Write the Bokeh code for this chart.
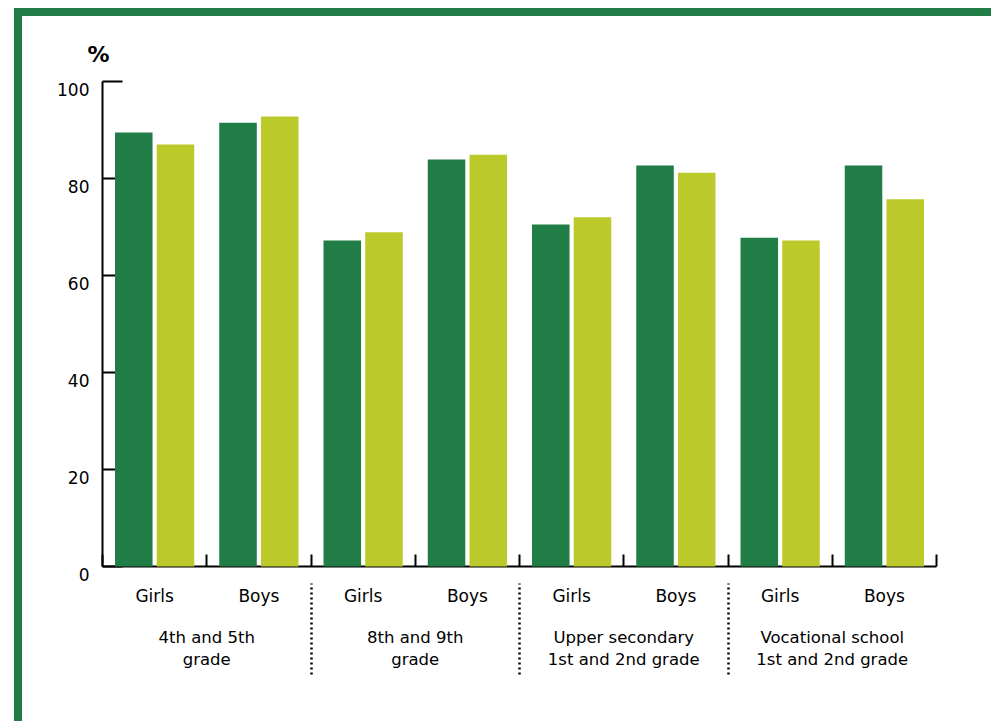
from bokeh.plotting import figure
from bokeh.models import (FactorRange, Range1d, LinearAxis, CategoricalAxis,
                          FixedTicker, Title, ColumnDataSource)
from bokeh.transform import dodge
from bokeh.embed import file_html
from bokeh.resources import INLINE

groups = ["4th and 5th\ngrade", "8th and 9th\ngrade",
          "Upper secondary\n1st and 2nd grade", "Vocational school\n1st and 2nd grade"]
sexes = ["Girls", "Boys"]
series_a = [89.5, 91.5, 67.2, 83.9, 70.5, 82.7, 67.8, 82.7]
series_b = [87.0, 92.8, 68.9, 84.9, 72.0, 81.2, 67.2, 75.7]
y_ticks = [0, 20, 40, 60, 80, 100]

DARK = "#1f7d45"
LIGHT = "#bcc92b"
FONT = "DejaVu Sans"

factors = [(g, s) for g in groups for s in sexes]
src = ColumnDataSource(dict(x=factors, a=series_a, b=series_b))

p = figure(x_range=FactorRange(*factors, range_padding=0, group_padding=0, factor_padding=0),
           y_range=Range1d(0, 100),
           frame_width=834, frame_height=485,
           min_border_left=80, min_border_top=65, min_border_right=55, min_border_bottom=155,
           output_backend="svg", toolbar_location=None,
           x_axis_location=None, y_axis_location=None)
p.styles = {"border-top": "8px solid " + DARK, "border-left": "8px solid " + DARK,
            "margin-left": "14px", "margin-top": "8px"}
p.grid.visible = False
p.outline_line_color = None
p.background_fill_color = "white"
p.border_fill_color = "white"

ra = p.vbar(x=dodge("x", -0.2, range=p.x_range), top="a", width=0.36, source=src,
            fill_color=DARK, line_color=None)
rb = p.vbar(x=dodge("x", 0.2, range=p.x_range), top="b", width=0.36, source=src,
            fill_color=LIGHT, line_color=None)
ra.level = "annotation"
rb.level = "annotation"

# y axis: line + inward ticks; labels sit a little below their ticks
yax = LinearAxis(ticker=FixedTicker(ticks=y_ticks))
yax.axis_line_width = 2
yax.axis_line_color = "black"
yax.major_tick_in = 20
yax.major_tick_out = 0
yax.major_tick_line_width = 2
yax.minor_tick_line_color = None
yax.major_label_overrides = {t: "\n" + str(t) for t in y_ticks}
yax.major_label_text_font = FONT
yax.major_label_text_font_size = "17px"
yax.major_label_text_line_height = 0.85
yax.major_label_text_color = "black"
yax.major_label_standoff = 13
p.add_layout(yax, "left")

# boundary ticks between the categories (synthetic coordinates 0..N)
tax = LinearAxis(ticker=FixedTicker(ticks=list(range(len(factors) + 1))))
tax.axis_line_width = 2
tax.axis_line_color = "black"
tax.major_tick_in = 12
tax.major_tick_out = 0
tax.major_tick_line_width = 2
tax.minor_tick_line_color = None
tax.major_label_text_font_size = "1px"
tax.major_label_text_color = None
tax.major_label_standoff = 0
p.add_layout(tax, "below")

cax = CategoricalAxis()
cax.axis_line_color = None
cax.major_tick_line_color = None
cax.major_tick_in = 0
cax.major_tick_out = 0
cax.major_label_text_font = FONT
cax.major_label_text_font_size = "17px"
cax.major_label_text_color = "black"
cax.major_label_standoff = 19
cax.group_text_font = FONT
cax.group_text_font_size = "16.5px"
cax.group_text_font_style = "normal"
cax.group_text_color = "black"
cax.separator_line_color = None
p.add_layout(cax, "below")

# dotted separators between the four school levels
sep_ticks = [len(sexes) * i for i in range(1, len(groups))]
sax = LinearAxis(ticker=FixedTicker(ticks=sep_ticks))
sax.axis_line_color = None
sax.major_tick_in = 89
sax.major_tick_out = 2
sax.major_tick_line_width = 2.5
sax.major_tick_line_color = "black"
sax.major_tick_line_dash = "2 3"
sax.minor_tick_line_color = None
sax.major_label_text_font_size = "1px"
sax.major_label_text_color = None
sax.major_label_standoff = 0
p.add_layout(sax, "below")

p.add_layout(Title(text="%", align="left", offset=-15, standoff=29,
                   text_font=FONT, text_font_size="22px", text_font_style="bold",
                   text_color="black"), "above")

open("out.html", "w").write(file_html(p, INLINE))
